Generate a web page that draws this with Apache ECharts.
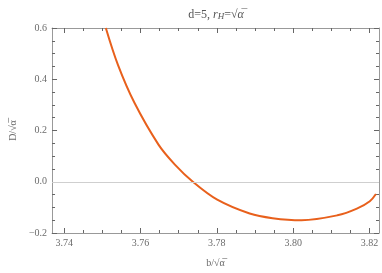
<!DOCTYPE html>
<html><head><meta charset="utf-8">
<script src="https://cdn.jsdelivr.net/npm/echarts@6/dist/echarts.min.js"></script>
<style>html,body{margin:0;padding:0;background:#fff}#c{width:382px;height:273px}</style>
</head><body><div id="c"></div>
<script>
// Data
const bValues = [3.7509, 3.7541, 3.7584, 3.7647, 3.7690, 3.7737, 3.7801, 3.7886, 3.7946, 3.8022, 3.8116, 3.8167, 3.8201, 3.8217];
const dValues = [0.600, 0.455, 0.308, 0.145, 0.067, 0.000, -0.070, -0.124, -0.142, -0.150, -0.131, -0.105, -0.076, -0.048];
const xMajorTicks = [3.74, 3.76, 3.78, 3.80, 3.82];
const xMinorTicks = [3.745, 3.75, 3.755, 3.765, 3.77, 3.775, 3.785, 3.79, 3.795, 3.805, 3.81, 3.815];
const xRange = [3.7368, 3.8225];
const yRange = [-0.2, 0.6];
const yStep = 0.2;

const axisColor = '#999999';
const tickColor = '#666666';
const labelColor = '#6b6b6b';
const font = 'Liberation Serif';

function xAx(pos, ticks, len, showLine, showLabel, name) {
  const a = {
    type: 'value', position: pos, min: xRange[0], max: xRange[1],
    axisLine: {show: showLine, onZero: false, lineStyle: {color: axisColor}},
    axisTick: {show: true, inside: true, length: len, customValues: ticks, lineStyle: {color: tickColor}},
    axisLabel: {show: showLabel, customValues: ticks, color: labelColor, fontFamily: font, fontSize: 10, margin: 5,
      formatter: v => v.toFixed(2)},
    splitLine: {show: false}
  };
  if (name) {
    a.name = name; a.nameLocation = 'middle'; a.nameGap = 25;
    a.nameTextStyle = {color: labelColor, fontFamily: font, fontSize: 10};
  }
  return a;
}
function yAx(pos, showLabel, name) {
  const a = {
    type: 'value', position: pos, min: yRange[0], max: yRange[1], interval: yStep,
    axisLine: {show: true, onZero: false, lineStyle: {color: axisColor}},
    axisTick: {show: true, inside: true, length: 5, lineStyle: {color: tickColor}},
    minorTick: {show: true, splitNumber: 4, length: 3, lineStyle: {color: tickColor}},
    axisLabel: {show: showLabel, color: labelColor, fontFamily: font, fontSize: 10, margin: 5,
      formatter: v => v.toFixed(1).replace('-', '\u2212')},
    splitLine: {show: false}
  };
  if (name) {
    a.name = name; a.nameLocation = 'middle'; a.nameGap = 30; a.nameRotate = 90;
    a.nameTextStyle = {color: labelColor, fontFamily: font, fontSize: 10};
  }
  return a;
}

const chart = echarts.init(document.getElementById('c'));
chart.setOption({
  animation: false,
  title: {
    text: 'd=5, {i|r}{s|H}=√{i|α̅}',
    left: 211, top: 3, textAlign: 'center',
    textStyle: {
      color: '#555', fontFamily: font, fontSize: 12, fontWeight: 'normal',
      rich: {
        i: {fontStyle: 'italic', fontFamily: font, fontSize: 12, color: '#555'},
        s: {fontStyle: 'italic', fontFamily: font, fontSize: 9, color: '#555', verticalAlign: 'bottom', padding: [4, 0, 0, 0]}
      }
    }
  },
  grid: {left: 44, right: 3, top: 28, bottom: 37},
  xAxis: [
    xAx('bottom', xMajorTicks, 5, true, true, 'b/√α̅'),
    xAx('bottom', xMinorTicks, 3, false, false),
    xAx('top', xMajorTicks, 5, true, false),
    xAx('top', xMinorTicks, 3, false, false)
  ],
  yAxis: [
    yAx('left', true, 'D/√α̅'),
    yAx('right', false)
  ],
  series: [{
    type: 'line',
    xAxisIndex: 0, yAxisIndex: 0,
    data: bValues.map((b, i) => [b, dValues[i]]),
    smooth: 0.35,
    showSymbol: false,
    lineStyle: {color: '#E8601C', width: 2},
    markLine: {
      silent: true, symbol: 'none', label: {show: false},
      lineStyle: {color: '#cfcfcf', width: 1, type: 'solid'},
      data: [{yAxis: 0}]
    }
  }]
});
</script></body></html>
